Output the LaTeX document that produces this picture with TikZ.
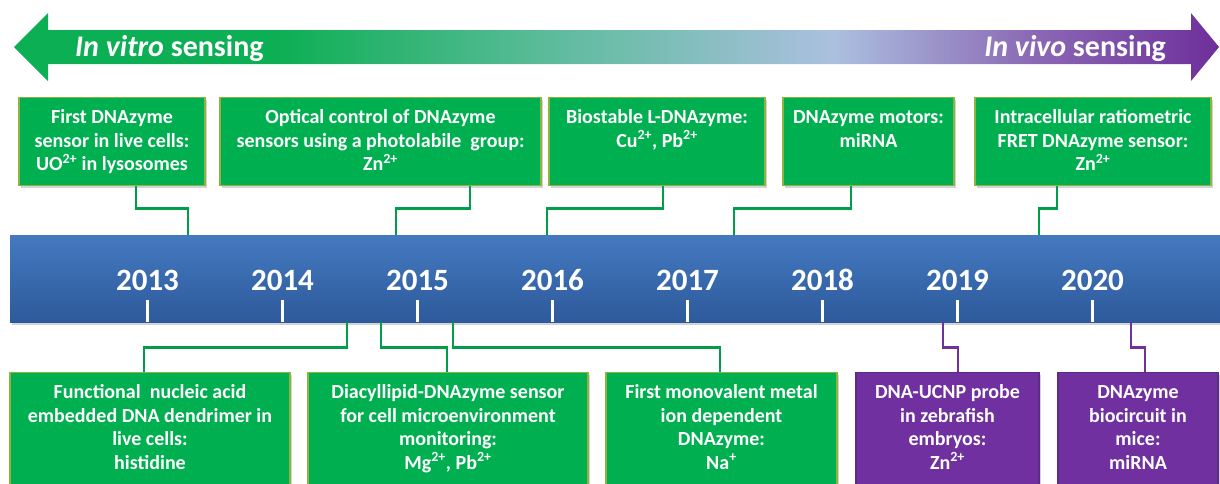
\documentclass[tikz,border=0pt]{standalone}
\usepackage{fontspec}
\setmainfont{Carlito}
\usepackage{tikz}
\usetikzlibrary{shadows}

\definecolor{cardgreen}{HTML}{00B050}
\definecolor{cardpurple}{HTML}{7030A0}
\definecolor{greenedge}{HTML}{8CB43E}
\definecolor{purpleedge}{HTML}{5E2A88}
\definecolor{bartop}{HTML}{4479C0}
\definecolor{barbottom}{HTML}{2D5A9B}
\definecolor{arrgreen}{HTML}{0DAF54}
\definecolor{arrteal}{HTML}{62BCA0}
\definecolor{arrblue}{HTML}{ABC0DF}
\definecolor{arrlilac}{HTML}{8C6BB6}
\definecolor{arrpurple}{HTML}{6E2E9B}

\pgfdeclarehorizontalshading{sensing}{100bp}{color(0bp)=(arrgreen); color(25bp)=(arrgreen); color(36bp)=(arrgreen); color(48bp)=(arrteal); color(59bp)=(arrblue); color(67bp)=(arrlilac); color(75bp)=(arrpurple); color(100bp)=(arrpurple)}

\tikzset{
    card/.style={inner sep=0pt, text=white, font=\bfseries\fontsize{20}{23.5}\selectfont,
        drop shadow={opacity=0.35, shadow xshift=2pt, shadow yshift=-2pt}},
    greencard/.style={card, fill=cardgreen, draw=greenedge, line width=1.2pt},
    purplecard/.style={card, fill=cardpurple, draw=purpleedge, line width=1.2pt},
    greenlink/.style={draw=cardgreen!90!black, line width=2.6pt},
    purplelink/.style={draw=cardpurple, line width=2.6pt},
    timebar/.style={inner sep=0pt, top color=bartop, bottom color=barbottom,
        drop shadow={opacity=0.35, shadow xshift=2pt, shadow yshift=-3pt}},
    yearlabel/.style={text=white, inner sep=0pt, anchor=base, font=\bfseries\fontsize{31}{31}\selectfont},
    yeartick/.style={draw=white, line width=3pt},
    arrowlabel/.style={text=white, inner sep=0pt, font=\bfseries\fontsize{30}{30}\selectfont}
}

\newcommand{\cardtext}[3]{\parbox[c][#2][t]{#1}{\centering\rule{0pt}{26pt}#3}}

\begin{document}
\begin{tikzpicture}[x=1pt, y=-1pt]
    \useasboundingbox (0,0) rectangle (1220,483);
    \clip (0,0) rectangle (1220,483);

    \shade[shading=sensing] (14,47) -- (48,13) -- (48,30) -- (1191,30) -- (1191,13)
        -- (1219,47) -- (1191,81) -- (1191,64) -- (48,64) -- (48,81) -- cycle;
    \node[arrowlabel, anchor=base west] (vitro) at (75,56) {\textit{In vitro} sensing};
    \node[arrowlabel, anchor=base east] (vivo) at (1166,56) {\textit{In vivo} sensing};

    \node[timebar, minimum width=1215pt, minimum height=87pt, anchor=north west] (bar) at (10,235) {};
    \foreach \yr [count=\i from 0] in {2013,...,2020} {
        \node[yearlabel] (y\yr) at (147.5+135*\i, 290) {\yr};
        \draw[yeartick] (y\yr.base) ++(0,10) -- ++(0,22);
    }

    \node[greencard, anchor=north] (u1) at (112,97) {\cardtext{186pt}{88pt}{First DNAzyme\\sensor in live cells:\\UO\textsuperscript{2+} in lysosomes}};
    \node[greencard, anchor=north] (u2) at (380.5,97) {\cardtext{321pt}{88pt}{Optical control of DNAzyme\\sensors using a photolabile\ \ group:\\Zn\textsuperscript{2+}}};
    \node[greencard, anchor=north] (u3) at (657,97) {\cardtext{216pt}{88pt}{Biostable L-DNAzyme:\\Cu\textsuperscript{2+}, Pb\textsuperscript{2+}}};
    \node[greencard, anchor=north] (u4) at (868.5,97) {\cardtext{171pt}{88pt}{DNAzyme motors:\\miRNA}};
    \node[greencard, anchor=north] (u5) at (1093,97) {\cardtext{236pt}{88pt}{Intracellular ratiometric\\FRET DNAzyme sensor:\\Zn\textsuperscript{2+}}};

    \node[greencard, anchor=north] (d1) at (150,372) {\cardtext{280pt}{130pt}{Functional\ \ nucleic acid\\embedded DNA dendrimer in\\live cells:\\histidine}};
    \node[greencard, anchor=north] (d2) at (448,372) {\cardtext{280pt}{130pt}{Diacyllipid-DNAzyme sensor\\for cell microenvironment\\monitoring:\\Mg\textsuperscript{2+}, Pb\textsuperscript{2+}}};
    \node[greencard, anchor=north] (d3) at (721.5,372) {\cardtext{231pt}{130pt}{First monovalent metal\\ion dependent\\DNAzyme:\\Na\textsuperscript{+}}};
    \node[purplecard, anchor=north] (d4) at (947.5,372) {\cardtext{183pt}{130pt}{DNA-UCNP probe\\in zebrafish\\embryos:\\Zn\textsuperscript{2+}}};
    \node[purplecard, anchor=north] (d5) at (1138,372) {\cardtext{160pt}{130pt}{DNAzyme\\biocircuit\ in\\mice:\\miRNA}};

    \draw[greenlink] ([xshift=24pt]u1.south) -- ++(0,22) -| ([xshift=178pt]bar.north west);
    \draw[greenlink] ([xshift=89.5pt]u2.south) -- ++(0,22) -| ([xshift=386pt]bar.north west);
    \draw[greenlink] ([xshift=6pt]u3.south) -- ++(0,22) -| ([xshift=537pt]bar.north west);
    \draw[greenlink] ([xshift=-17.5pt]u4.south) -- ++(0,22) -| ([xshift=724pt]bar.north west);
    \draw[greenlink] ([xshift=-36pt]u5.south) -- ++(0,22) -| ([xshift=1029pt]bar.north west);

    \draw[greenlink] ([xshift=337pt]bar.south west) -- ++(0,25) -| ([xshift=-6pt]d1.north);
    \draw[greenlink] ([xshift=371pt]bar.south west) -- ++(0,25) -| ([xshift=-1pt]d2.north);
    \draw[greenlink] ([xshift=443pt]bar.south west) -- ++(0,25) -| ([xshift=-1.5pt]d3.north);
    \draw[purplelink] ([xshift=933pt]bar.south west) -- ++(0,25) -| ([xshift=10.5pt]d4.north);
    \draw[purplelink] ([xshift=1121pt]bar.south west) -- ++(0,25) -| ([xshift=7pt]d5.north);
\end{tikzpicture}
\end{document}
